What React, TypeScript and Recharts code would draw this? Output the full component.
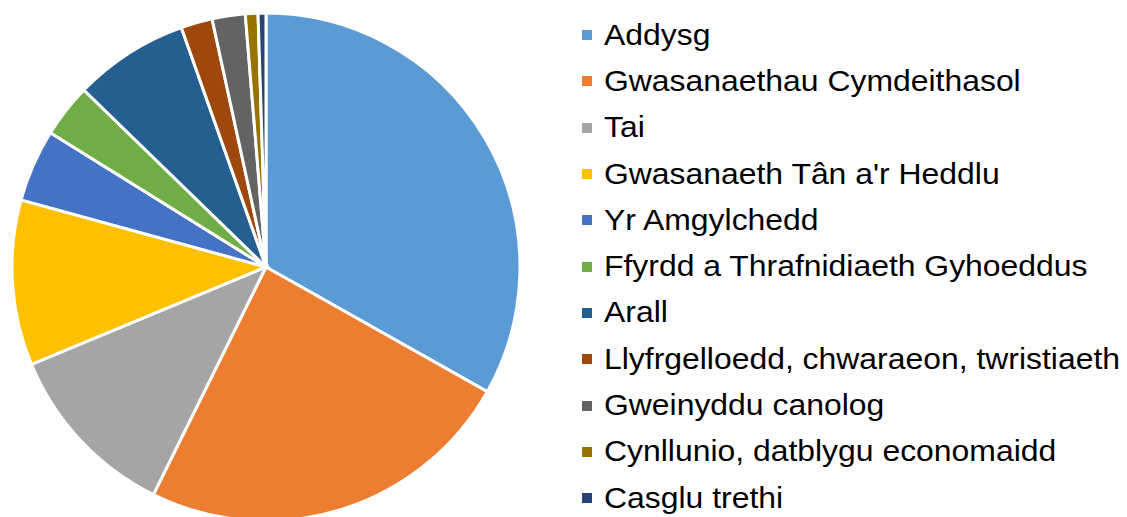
import React from 'react';
import { PieChart, Pie, Cell } from 'recharts';

const categories = [
  'Addysg',
  'Gwasanaethau Cymdeithasol',
  'Tai',
  "Gwasanaeth Tân a'r Heddlu",
  'Yr Amgylchedd',
  'Ffyrdd a Thrafnidiaeth Gyhoeddus',
  'Arall',
  'Llyfrgelloedd, chwaraeon, twristiaeth',
  'Gweinyddu canolog',
  'Cynllunio, datblygu economaidd',
  'Casglu trethi',
];

const shares = [33.1, 24.1, 11.4, 10.5, 4.6, 3.4, 7.3, 2.0, 2.1, 0.8, 0.5];

const colors = [
  '#5B9BD5',
  '#ED7D31',
  '#A5A5A5',
  '#FFC000',
  '#4472C4',
  '#70AD47',
  '#255E91',
  '#9E480E',
  '#636363',
  '#997300',
  '#264478',
];

const data = categories.map((name, i) => ({ name, value: shares[i] }));

function LegendList() {
  return (
    <div
      style={{
        position: 'absolute',
        left: 582,
        top: 12,
        fontFamily: 'Liberation Sans, Arial, sans-serif',
        fontSize: 29,
        color: '#000',
      }}
    >
      {categories.map((name, i) => (
        <div key={name} style={{ display: 'flex', alignItems: 'center', height: 46.3, whiteSpace: 'nowrap' }}>
          <span style={{ width: 10, height: 10, background: colors[i], marginRight: 12, flexShrink: 0 }} />
          <span style={{ display: 'inline-block', transform: 'scaleX(1.1)', transformOrigin: 'left center' }}>{name}</span>
        </div>
      ))}
    </div>
  );
}

export default function App() {
  return (
    <div style={{ position: 'absolute', left: 0, top: 0, width: 1127, height: 517, background: '#fff', overflow: 'hidden' }}>
      <PieChart width={1127} height={540} margin={{ top: 0, right: 0, bottom: 0, left: 0 }}>
        <Pie
          data={data}
          dataKey="value"
          nameKey="name"
          cx={266}
          cy={267}
          outerRadius={254}
          startAngle={90}
          endAngle={-270}
          stroke="#fff"
          strokeWidth={3}
          isAnimationActive={false}
        >
          {data.map((d, i) => (
            <Cell key={d.name} fill={colors[i]} />
          ))}
        </Pie>
      </PieChart>
      <LegendList />
    </div>
  );
}
